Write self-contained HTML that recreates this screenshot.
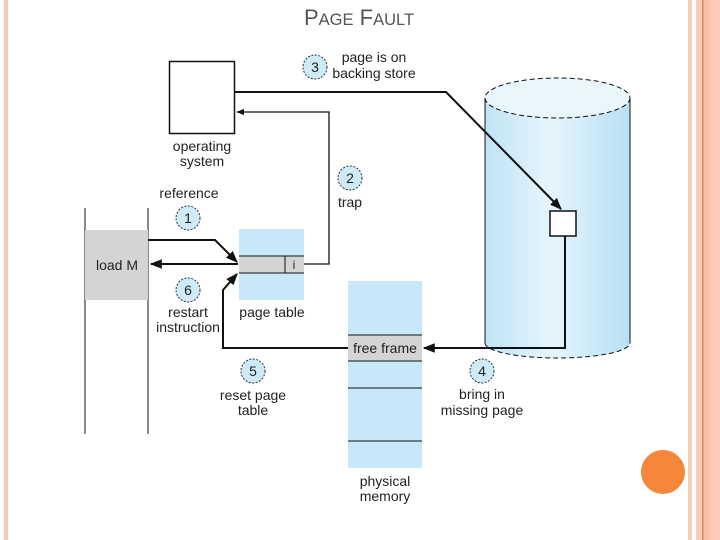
<!DOCTYPE html>
<html><head><meta charset="utf-8"><style>
html,body{margin:0;padding:0;background:#fff;}
svg{display:block;}
text{font-family:"Liberation Sans",sans-serif;font-size:14px;fill:#222;}
</style></head><body>
<svg width="720" height="540" viewBox="0 0 720 540" xmlns="http://www.w3.org/2000/svg">
<defs>
<marker id="ah" viewBox="0 0 10 10" refX="9" refY="5" markerWidth="6" markerHeight="6" orient="auto-start-reverse"><path d="M0,1 L10,5 L0,9 z" fill="#111"/></marker>
<linearGradient id="cyl" x1="0" x2="1" y1="0" y2="0">
<stop offset="0" stop-color="#bfe4f5"/><stop offset="0.45" stop-color="#e6f5fc"/><stop offset="1" stop-color="#b7e0f4"/></linearGradient>
</defs>
<rect x="4" y="0" width="4" height="540" fill="#f7c9b3"/>
<rect x="688" y="0" width="4" height="540" fill="#f7d0bd"/>
<rect x="696" y="0" width="6" height="540" fill="#f9cdb8"/>
<rect x="702" y="0" width="1.5" height="540" fill="#cf8a66"/>
<rect x="703.5" y="0" width="6" height="540" fill="#fbbfa2"/>
<rect x="709.5" y="0" width="10.5" height="540" fill="#fdc9b9"/>
<text x="359" y="25" text-anchor="middle" style="font-size:22px;fill:#555">P<tspan style="font-size:16.5px">AGE</tspan> F<tspan style="font-size:16.5px">AULT</tspan></text>
<path d="M485,98 L485,343 A72.5,15 0 0 0 630,343 L630,98 Z" fill="url(#cyl)"/>
<ellipse cx="557.5" cy="98" rx="72.5" ry="20" fill="#e9f6fc"/>
<ellipse cx="557.5" cy="98" rx="72.5" ry="20" fill="none" stroke="#111" stroke-dasharray="5,3"/>
<path d="M485,343 A72.5,15 0 0 0 630,343" fill="none" stroke="#111" stroke-dasharray="5,3"/>
<line x1="485" y1="98" x2="485" y2="343" stroke="#111"/>
<line x1="630" y1="98" x2="630" y2="343" stroke="#111"/>
<rect x="550" y="211" width="26" height="25" fill="#fff" stroke="#111" stroke-width="1.5"/>
<rect x="169.5" y="61.5" width="65" height="72" fill="#fff" stroke="#111" stroke-width="1.5"/>
<line x1="85" y1="208" x2="85" y2="434" stroke="#111"/>
<line x1="148" y1="208" x2="148" y2="434" stroke="#111"/>
<rect x="85" y="230" width="63" height="70" fill="#d4d4d6"/>
<text x="117" y="270" text-anchor="middle">load M</text>
<rect x="239" y="229" width="65" height="71" fill="#c7e8f8"/>
<rect x="239" y="256" width="65" height="17" fill="#d4d4d6"/>
<line x1="239" y1="256" x2="304" y2="256" stroke="#111"/>
<line x1="239" y1="273" x2="304" y2="273" stroke="#111"/>
<line x1="285" y1="256" x2="285" y2="273" stroke="#111"/>
<text x="294" y="269" text-anchor="middle" style="font-size:12px">i</text>
<rect x="348" y="281" width="74" height="187" fill="#c7e8f8"/>
<rect x="348" y="335" width="74" height="26" fill="#d4d4d6"/>
<line x1="348" y1="335" x2="422" y2="335" stroke="#111"/>
<line x1="348" y1="361" x2="422" y2="361" stroke="#111"/>
<line x1="348" y1="388" x2="422" y2="388" stroke="#111"/>
<line x1="348" y1="441" x2="422" y2="441" stroke="#111"/>
<text x="385" y="353" text-anchor="middle">free frame</text>
<g fill="none" stroke="#111" stroke-width="2">
<polyline points="234,92 446,92 561,209" marker-end="url(#ah)"/>
<polyline points="565,236 565,348 424,348" marker-end="url(#ah)"/>
<polyline points="304,264 329,264 329,112 237,112" stroke-width="1.3" marker-end="url(#ah)"/>
<polyline points="148,240 215,240 237,262" marker-end="url(#ah)"/>
<polyline points="238,264 151,264" marker-end="url(#ah)"/>
<polyline points="348,348 223,348 223,290 237,274" marker-end="url(#ah)"/>
</g>
<g fill="#cfeaf7" stroke="#333" stroke-dasharray="2,1.5">
<circle cx="315" cy="67" r="12"/><circle cx="350" cy="178" r="12"/>
<circle cx="188" cy="218" r="12"/><circle cx="188" cy="290" r="12"/>
<circle cx="253" cy="371" r="12"/><circle cx="482" cy="371" r="12"/>
</g>
<g text-anchor="middle">
<text x="315" y="72">3</text><text x="350" y="183">2</text><text x="188" y="223">1</text>
<text x="188" y="295">6</text><text x="253" y="376">5</text><text x="482" y="376">4</text>
<text x="374" y="62">page is on</text><text x="374" y="78">backing store</text>
<text x="202" y="151">operating</text><text x="202" y="166">system</text>
<text x="189" y="198">reference</text>
<text x="350" y="207">trap</text>
<text x="188" y="317">restart</text><text x="188" y="332">instruction</text>
<text x="272" y="317">page table</text>
<text x="253" y="400">reset page</text><text x="253" y="415">table</text>
<text x="482" y="399">bring in</text><text x="482" y="415">missing page</text>
<text x="385" y="486">physical</text><text x="385" y="501">memory</text>
</g>
<circle cx="663" cy="472" r="22" fill="#f5873a"/>
</svg>
</body></html>
